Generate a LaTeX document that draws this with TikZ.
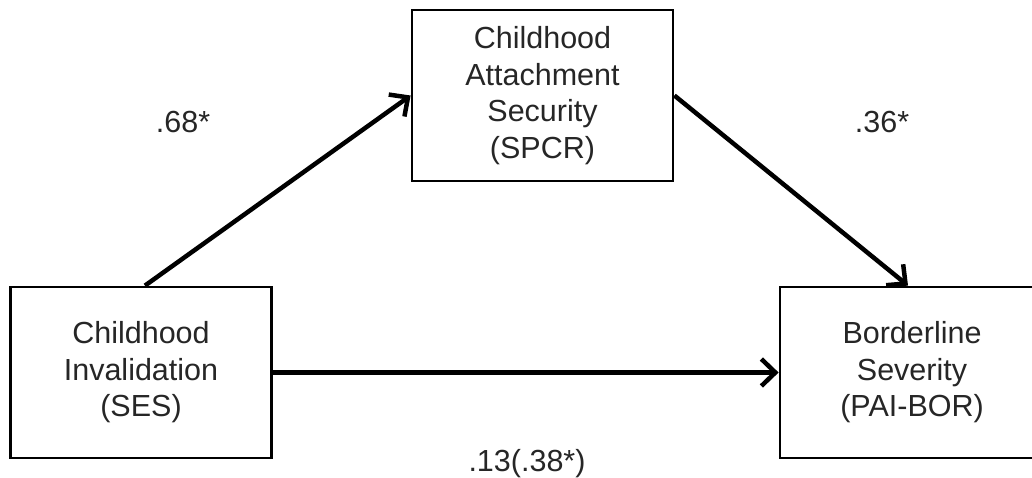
\documentclass[tikz,border=0pt]{standalone}
\usepackage{fontspec}
\setmainfont{Liberation Sans}
\usetikzlibrary{arrows.meta}
\begin{document}
\begin{tikzpicture}[x=1pt,y=-1pt,
  box/.style={draw=black,line width=2.8pt,minimum width=261pt,minimum height=171pt,
    inner sep=0pt,align=center,font=\fontsize{30.5}{36.5}\selectfont,text=black!85},
  lbl/.style={anchor=base,font=\fontsize{30.5}{36.5}\selectfont,text=black!85},
  arr/.style={line width=4.5pt,-{Straight Barb[length=14pt,width=27pt]}}]
\useasboundingbox (0,0) rectangle (1032,477);
\node[box] (L) at (141,372.5) {Childhood\\Invalidation\\(SES)};
\node[box] (T) at (542.5,95.5) {Childhood\\Attachment\\Security\\(SPCR)};
\node[box,minimum width=264pt] (R) at (912,372.5) {Borderline\\Severity\\(PAI-BOR)};
\draw[arr] ([xshift=4pt]L.north) -- (T.west);
\draw[arr] (T.east) -- ([xshift=-4pt]R.north);
\draw[arr] (L.east) -- (R.west);
\node[lbl] (a) at (183,132) {.68*};
\node[lbl] (b) at (882,132) {.36*};
\node[lbl] (c) at (527,471) {.13(.38*)};
\end{tikzpicture}
\end{document}
